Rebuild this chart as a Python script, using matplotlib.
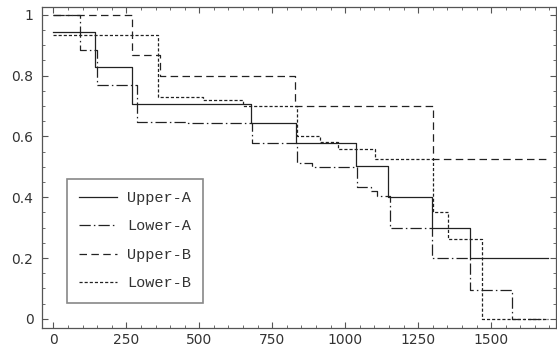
import matplotlib
matplotlib.use("Agg")
import matplotlib.pyplot as plt

# step points (x where the value starts, value); last point marks the end
upper_a_x = [0, 143, 268, 676, 830, 1037, 1147, 1296, 1427, 1695]
upper_a_y = [0.943, 0.827, 0.706, 0.643, 0.578, 0.503, 0.40, 0.298, 0.2, 0.2]

lower_a_x = [0, 92, 148, 287, 461, 679, 834, 885, 1039, 1090, 1110, 1152, 1296, 1427, 1573, 1695]
lower_a_y = [1, 0.885, 0.77, 0.649, 0.643, 0.578, 0.512, 0.499, 0.435, 0.42, 0.405, 0.298, 0.2, 0.095, 0, 0]

upper_b_x = [0, 270, 365, 828, 1300, 1695]
upper_b_y = [1, 0.868, 0.80, 0.70, 0.526, 0.526]

lower_b_x = [0, 360, 513, 650, 835, 913, 975, 1102, 1300, 1352, 1470, 1695]
lower_b_y = [0.934, 0.731, 0.72, 0.70, 0.60, 0.583, 0.559, 0.525, 0.353, 0.262, 0, 0]

x_ticks = [0, 250, 500, 750, 1000, 1250, 1500]
y_ticks = [0, 0.2, 0.4, 0.6, 0.8, 1]
y_labels = ["0", "0.2", "0.4", "0.6", "0.8", "1"]

fig = plt.figure(figsize=(5.57, 3.47), dpi=100)
ax = fig.add_axes([0.0749, 0.0548, 0.9231, 0.9252])

col = "#222222"
lw = 0.9
ax.step(upper_a_x, upper_a_y, where="post", color=col, lw=lw, label="Upper-A")
ax.step(lower_a_x, lower_a_y, where="post", color=col, lw=lw,
        dashes=(9, 2.5, 1.2, 2.5), label="Lower-A")
ax.step(upper_b_x, upper_b_y, where="post", color=col, lw=lw,
        dashes=(6, 3.5), label="Upper-B")
ax.step(lower_b_x, lower_b_y, where="post", color=col, lw=lw,
        dashes=(2.5, 1.6), label="Lower-B")

ax.set_xlim(-40, 1722)
ax.set_ylim(-0.03, 1.026)

ax.set_xticks(x_ticks)
ax.set_xticks(range(0, 1701, 50), minor=True)
ax.set_yticks(y_ticks)
ax.set_yticklabels(y_labels)
ax.set_yticks([i * 0.05 for i in range(21)], minor=True)

for s in ax.spines.values():
    s.set_color("#555555")
    s.set_linewidth(0.9)
ax.tick_params(which="both", direction="in", top=True, right=True,
               color="#555555", labelcolor="#333333", labelsize=10)
ax.tick_params(which="major", length=4, width=0.8)
ax.tick_params(which="minor", length=2, width=0.6)
ax.tick_params(axis="x", pad=3.5)
ax.tick_params(axis="y", pad=6)

leg = ax.legend(loc="lower left", bbox_to_anchor=(0.0486, 0.0788),
                borderaxespad=0, fancybox=False, framealpha=1,
                prop={"family": "Liberation Mono", "size": 11},
                handlelength=2.5, handletextpad=0.65, labelspacing=0.95,
                borderpad=0.8)
leg.get_frame().set_edgecolor("#888888")
leg.get_frame().set_linewidth(1.2)
for t in leg.get_texts():
    t.set_color("#333333")

fig.savefig("out.png", dpi=100)
